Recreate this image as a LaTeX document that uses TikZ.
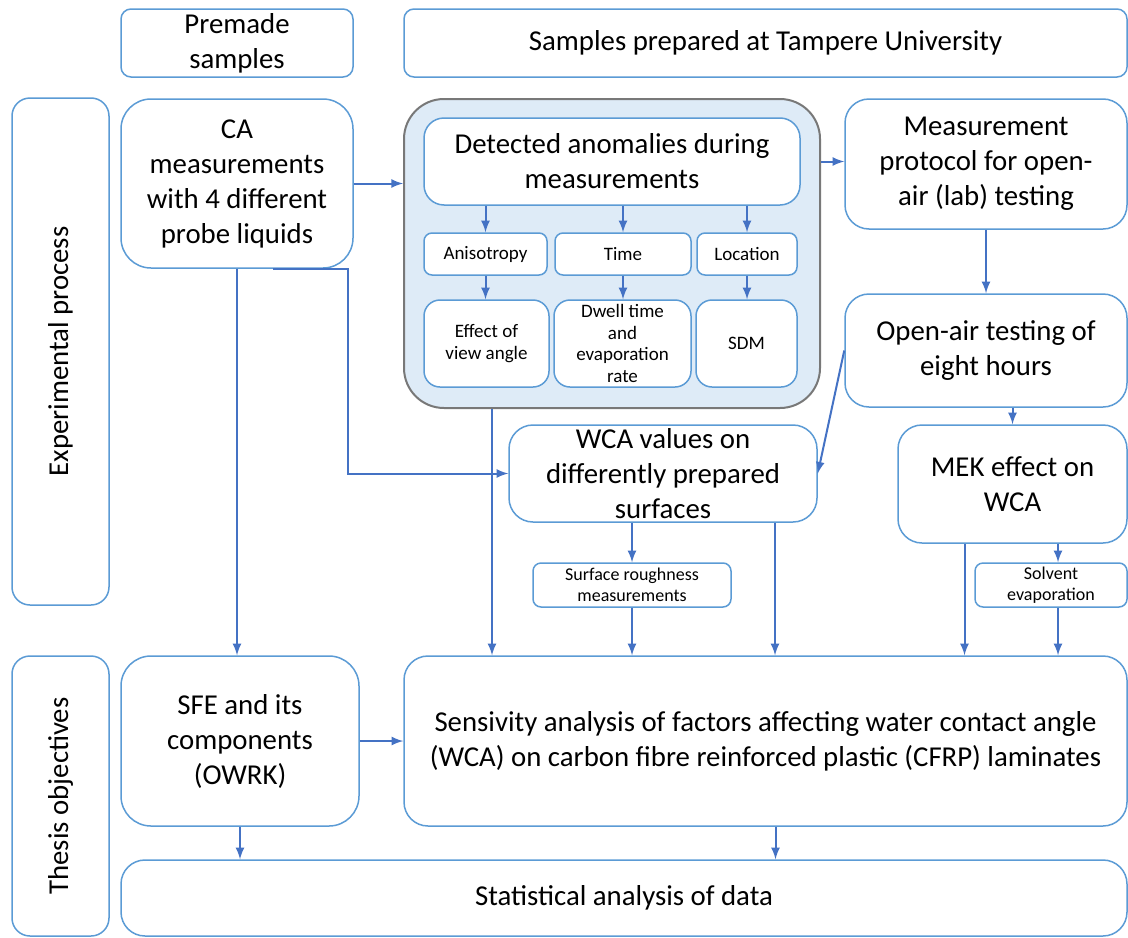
\documentclass[tikz,border=0pt]{standalone}
\usepackage{fontspec}
\setmainfont{Carlito}
\usepackage{xcolor}
\usetikzlibrary{positioning,shapes,arrows,calc}

\definecolor{boxblue}{RGB}{91,155,213}
\definecolor{arrblue}{RGB}{68,114,196}
\definecolor{contfill}{RGB}{222,235,247}
\definecolor{contgray}{RGB}{120,120,120}

\tikzset{
    box/.style={draw=boxblue, line width=0.75pt, rounded corners=#1, fill=white,
        align=center, inner sep=1pt, font=\fontsize{14.4}{17.5}\selectfont},
    box/.default=12pt,
    smallbox/.style={box=4pt, font=\fontsize{9.5}{10.8}\selectfont},
    arr/.style={draw=arrblue, line width=1pt, -latex},
}

\begin{document}
\begin{tikzpicture}[x=0.5pt, y=-0.5pt]
    \useasboundingbox (0,0) rectangle (1128,937);

    % top row
    \node[box=5pt, minimum width=116pt, minimum height=34pt] (pre) at (237,43) {Premade\\samples};
    \node[box=5pt, minimum width=361.5pt, minimum height=34pt] (tam) at (765.5,43) {Samples prepared at Tampere University};

    % side labels
    \node[box=9pt, minimum width=48.5pt, minimum height=253.5pt] (expside) at (60.5,351.5) {};
    \node[rotate=90, font=\fontsize{14.4}{17.5}\selectfont] at (expside) {Experimental process};
    \node[box=9pt, minimum width=48.5pt, minimum height=140pt] (thesside) at (60.5,796) {};
    \node[rotate=90, font=\fontsize{14.4}{17.5}\selectfont] at (thesside) {Thesis objectives};

    % experimental process
    \node[box=15pt, minimum width=116pt, minimum height=84.5pt] (ca) at (237,183.5) {CA\\measurements\\with 4 different\\probe liquids};

    \node[draw=contgray, line width=1pt, fill=contfill, rounded corners=20pt,
          minimum width=208pt, minimum height=154.5pt] (cont) at (612,253.5) {};
    \node[box=10pt, minimum width=188pt, minimum height=43.5pt] (det) at (612,161.5) {Detected anomalies during\\measurements};
    \node[smallbox, minimum width=61.5pt, minimum height=21pt] (ani) at (485.5,254) {Anisotropy};
    \node[smallbox, minimum width=68pt, minimum height=21pt] (time) at (623,254) {Time};
    \node[smallbox, minimum width=50pt, minimum height=21pt] (loc) at (747,254) {Location};
    \node[smallbox, box=8pt, font=\fontsize{9.5}{10.8}\selectfont, minimum width=62.5pt, minimum height=43.5pt] (eff) at (486.5,343.5) {Effect of\\view angle};
    \node[smallbox, box=8pt, font=\fontsize{9.5}{10.8}\selectfont, minimum width=68.5pt, minimum height=43.5pt] (dwell) at (622.5,343.5) {Dwell time\\and\\evaporation\\rate};
    \node[smallbox, box=8pt, font=\fontsize{9.5}{10.8}\selectfont, minimum width=50.5pt, minimum height=43.5pt] (sdm) at (746.5,343.5) {SDM};

    \node[box, minimum width=141pt, minimum height=65pt] (prot) at (986,164) {Measurement\\protocol for open-\\air (lab) testing};
    \node[box, minimum width=141pt, minimum height=56.5pt] (open) at (986,350.5) {Open-air testing of\\eight hours};
    \node[box, minimum width=154pt, minimum height=48.5pt] (wca) at (663,473.5) {WCA values on\\differently prepared\\surfaces};
    \node[box, minimum width=114.5pt, minimum height=59pt] (mek) at (1012.5,484) {MEK effect on\\WCA};
    \node[smallbox, minimum width=99pt, minimum height=22pt, font=\fontsize{9}{10.5}\selectfont] (rough) at (632,585) {Surface roughness\\measurements};
    \node[smallbox, minimum width=76pt, minimum height=22pt, font=\fontsize{9}{10.5}\selectfont] (solv) at (1051,585) {Solvent\\evaporation};

    % thesis objectives
    \node[box=15pt, minimum width=119pt, minimum height=85pt] (sfe) at (240,741) {SFE and its\\components\\(OWRK)};
    \node[box, minimum width=361.5pt, minimum height=85pt] (sens) at (765.5,741) {Sensivity analysis of factors affecting water contact angle\\(WCA) on carbon fibre reinforced plastic (CFRP) laminates};
    \node[box, minimum width=503pt, minimum height=38pt] (stat) at (624,898) {Statistical analysis of data};

    % connectors
    \draw[arr] (ca.east) -- (ca.east -| cont.west);
    \draw[arr] (cont.east |- det) -- (prot.west |- det);
    \foreach \a/\b in {ani/eff, time/dwell, loc/sdm} {
        \draw[arr] (\a.north |- det.south) -- (\a.north);
        \draw[arr] (\a.south) -- (\a.south |- \b.north);
    }
    \draw[arr] (prot.south) -- (open.north);
    \draw[arr] (open.south -| mek.north) -- (mek.north);
    \draw[arr] (open.west) -- (wca.east);
    \draw[arr] (ca.south) -- (ca.south |- sfe.north);
    \draw[arr] ([xshift=18pt]ca.south) -- ([xshift=55.5pt]ca.south) |- (wca.west);
    \draw[arr] ([xshift=-60pt]cont.south) -- ([xshift=-60pt]cont.south |- sens.north);
    \draw[arr] (rough.north |- wca.south) -- (rough.north);
    \draw[arr] (rough.south) -- (rough.south |- sens.north);
    \draw[arr] ([xshift=56pt]wca.south) -- ([xshift=56pt]wca.south |- sens.north);
    \draw[arr] ([xshift=-24pt]mek.south) -- ([xshift=-24pt]mek.south |- sens.north);
    \draw[arr] ([xshift=3.5pt]solv.north |- mek.south) -- ([xshift=3.5pt]solv.north);
    \draw[arr] ([xshift=3.5pt]solv.south) -- ([xshift=3.5pt]solv.south |- sens.north);
    \draw[arr] (sfe.east) -- (sens.west);
    \draw[arr] (sfe.south) -- (sfe.south |- stat.north);
    \draw[arr] ([xshift=5pt]sens.south) -- ([xshift=5pt]sens.south |- stat.north);
\end{tikzpicture}
\end{document}
